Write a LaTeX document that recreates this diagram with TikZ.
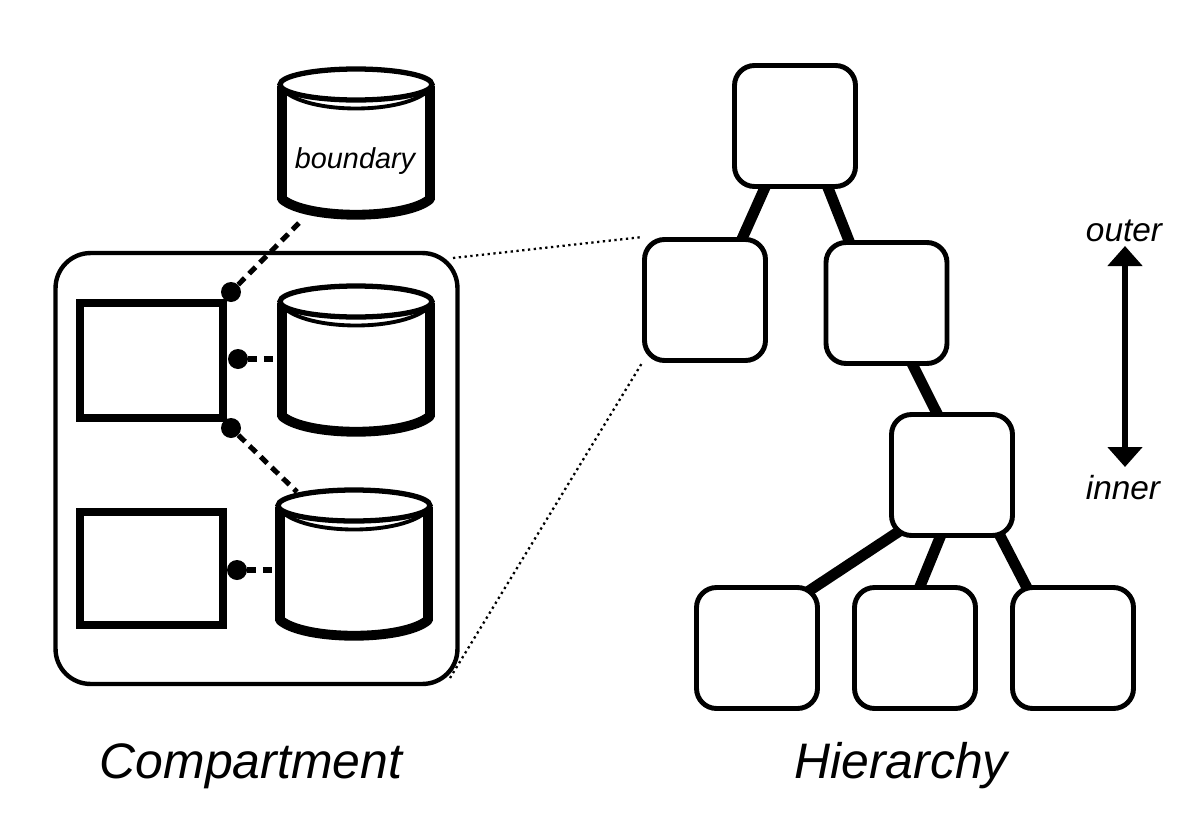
\documentclass[tikz,border=0pt]{standalone}
\usepackage{fontspec}
\setmainfont{Liberation Sans}
\usetikzlibrary{arrows.meta,backgrounds}
\begin{document}
\begin{tikzpicture}[
 x=.02cm,y=-.02cm,
 store/.pic={
  \draw[line width=5.4pt] (-74,0)--(-74,114) (74,0)--(74,114);
  \draw[line width=5.6pt,line cap=round] (-74,113)..controls(-50,134)and(50,134)..(74,113);
  \draw[line width=2.2pt] (-74,3)..controls(-50,29)and(50,29)..(74,3);
  \draw[line width=3pt,fill=white] (0,-1.5) ellipse [x radius=76,y radius=15.5];
  \coordinate (-foot) at (-56,136);
  \coordinate (-head) at (-57,-15);
  \coordinate (-side) at (-78,56);
 },
 compart/.style={draw,line width=2.5pt,rounded corners=.7cm,minimum width=8.04cm,minimum height=8.62cm},
 part/.style={draw,line width=4.5pt,fill=white,inner sep=0pt},
 level/.style={draw,line width=2.8pt,fill=white,rounded corners=.4cm,minimum size=2.42cm,inner sep=0pt},
 vertex/.style={circle,fill,inner sep=0pt,minimum size=.4cm},
 link/.style={line width=2.9pt,dash pattern=on 5.2pt off 3.6pt},
 edge/.style={line width=6.2pt,shorten <=-10pt,shorten >=-10pt},
 zoomline/.style={line width=1.3pt,dotted},
 axis/.style={line width=3.2pt,{Triangle[length=.4cm,width=.68cm]}-{Triangle[length=.4cm,width=.68cm]}},
 every node/.style={font=\itshape}]
 \useasboundingbox (0,0) rectangle (1200,825);
 % Compartment with its parts and stores.
 \node[compart] (comp) at (256.5,468.5){};
 \node[part,minimum width=2.86cm,minimum height=2.3cm] (upper) at (151.5,360.5){};
 \node[part,minimum width=2.86cm,minimum height=2.26cm] (lower) at (151.5,568.5){};
 \pic (bnd) at (356,86) {store};
 \pic (mid) at (356,303) {store};
 \pic (low) at (354,507) {store};
 \node[font=\itshape\fontsize{16.4}{18}\selectfont] (bndname) at (355,161){boundary};
 \node[vertex] (dota) at (231,292){};
 \node[vertex] (dotb) at (238,359){};
 \node[vertex] (dotc) at (231,428){};
 \node[vertex] (dotd) at (237,570){};
 \begin{pgfonlayer}{background}
  \draw[link] (dota)--(bnd-foot);
  \draw[link] (dotb)--(mid-side);
  \draw[link] (dotc)--(low-head);
  \draw[link] (dotd)--(dotd -| low-side);
 \end{pgfonlayer}
 % Hierarchy of compartments.
 \node[level] (root) at (795,126){};
 \node[level] (left) at (705,300){};
 \node[level] (right) at (886.5,303){};
 \node[level] (centre) at (952,475){};
 \node[level] (leafa) at (757,648){};
 \node[level] (leafb) at (915,648){};
 \node[level] (leafc) at (1073,648){};
 \begin{pgfonlayer}{background}
  \draw[edge] (root.-116)--(left.59);
  \draw[edge] (root.-62)--(right.121);
  \draw[edge] (right.-67)--(centre.104);
  \draw[edge] (centre.-135)--(leafa.46);
  \draw[edge] (centre.-101)--(leafb.85);
  \draw[edge] (centre.-52)--(leafc.127);
 \end{pgfonlayer}
 \coordinate (cornera) at (453,258);
 \coordinate (cornerb) at (450,678);
 \begin{pgfonlayer}{background}
  \draw[zoomline] (cornera)--(left.north west);
  \draw[zoomline] (cornerb)--(left.south west);
 \end{pgfonlayer}
 % Direction of nesting.
 \node[font=\itshape\fontsize{19}{21}\selectfont] (outer) at (1124,231){outer};
 \node[font=\itshape\fontsize{19}{21}\selectfont] (inner) at (1123,488){inner};
 \coordinate (axtop) at (1125,246);
 \coordinate (axbot) at (1125,467);
 \draw[axis] (axtop)--(axbot);
 \node[font=\itshape\fontsize{28.4}{32}\selectfont] (compname) at (251,766){Compartment};
 \node[font=\itshape\fontsize{28.4}{32}\selectfont] (hiername) at (901,766){Hierarchy};
\end{tikzpicture}
\end{document}
